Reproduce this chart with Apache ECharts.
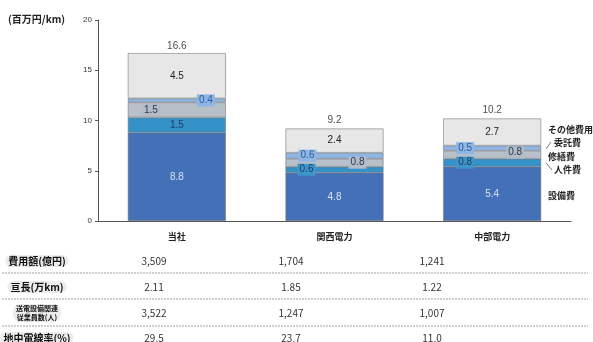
<!DOCTYPE html>
<html>
<head>
<meta charset="utf-8">
<script src="https://cdn.jsdelivr.net/npm/echarts@6/dist/echarts.min.js"></script>
<style>
  html, body { margin: 0; padding: 0; background: #fff; }
  #main { width: 593px; height: 342px; }
</style>
</head>
<body>
<div id="main"></div>
<script>
var categories = ['当社', '関西電力', '中部電力']
var equipment = [8.8, 4.8, 5.4]
var personnel = [1.5, 0.6, 0.8]
var repair = [1.5, 0.8, 0.8]
var outsourcing = [0.4, 0.6, 0.5]
var other = [4.5, 2.4, 2.7]
var totals = [16.6, 9.2, 10.2]

var rowNames = ['費用額(億円)', '亘長(万km)', '送電設備関連\n従業員数(人)', '地中電線率(%)']
var costs = ['3,509', '1,704', '1,241']
var lengths = ['2.11', '1.85', '1.22']
var staff = ['3,522', '1,247', '1,007']
var undergroundRate = ['29.5', '23.7', '11.0']
var tableRows = [costs, lengths, staff, undergroundRate]

var font = '"Noto Sans CJK JP", "Noto Sans", sans-serif'
var chart = echarts.init(document.getElementById('main'))

// labels for thin segments sit off to the side in little boxes
function sideLabels(values, offsets, bg, color) {
	return values.map(function (v, i) {
		var o = offsets[i]
		return {
			value: v,
			label: o ? {
				show: true,
				position: 'inside',
				offset: o,
				backgroundColor: bg,
				padding: [1, 2],
				color: color,
			} : { show: true },
		}
	})
}

var barBorder = { borderColor: '#7a7a7a', borderWidth: 0.6 }

var option = {
	animation: false,
	grid: { left: 98, right: 22, top: 20, bottom: 121 },
	xAxis: {
		type: 'category',
		data: categories,
		axisLine: { lineStyle: { color: '#555' } },
		axisTick: { length: 3, lineStyle: { color: '#555' } },
		axisLabel: { fontSize: 9, fontWeight: 'bold', color: '#222', fontFamily: font, margin: 11 },
	},
	yAxis: {
		type: 'value',
		min: 0,
		max: 20,
		interval: 5,
		splitLine: { show: false },
		axisLine: { show: true, lineStyle: { color: '#555' } },
		axisTick: { show: true, length: 3, lineStyle: { color: '#555' } },
		axisLabel: { fontSize: 8, color: '#333', margin: 6 },
	},
	series: [
		{
			name: '設備費',
			type: 'bar',
			stack: 'cost',
			barWidth: 98,
			itemStyle: Object.assign({ color: '#4470b8' }, barBorder),
			label: { show: true, color: '#d8e2f4', fontSize: 10 },
			data: equipment,
		},
		{
			name: '人件費',
			type: 'bar',
			stack: 'cost',
			itemStyle: Object.assign({ color: '#3592c8' }, barBorder),
			label: { show: true, color: '#1d3d66', fontSize: 10 },
			data: sideLabels(personnel, [null, [-28, 0], [-27, 0]], '#3e95c9', '#1d3d66'),
		},
		{
			name: '修繕費',
			type: 'bar',
			stack: 'cost',
			itemStyle: Object.assign({ color: '#b7bfc9' }, barBorder),
			label: { show: true, color: '#222', fontSize: 10 },
			data: sideLabels(repair, [[-26, 0], [23, 0], [23, -2]], '#b2bbc6', '#2a3a55'),
		},
		{
			name: '委託費',
			type: 'bar',
			stack: 'cost',
			itemStyle: Object.assign({ color: '#8fb5e3' }, barBorder),
			label: { show: true, color: '#2c5a9c', fontSize: 10 },
			data: sideLabels(outsourcing, [[29, 0], [-27, 0], [-27, 0]], '#8fb5e3', '#2c5a9c'),
		},
		{
			name: 'その他費用',
			type: 'bar',
			stack: 'cost',
			itemStyle: Object.assign({ color: '#e7e7e7' }, barBorder),
			label: { show: true, color: '#222', fontSize: 10 },
			data: other,
		},
		{
			name: '合計',
			type: 'scatter',
			symbolSize: 0,
			label: { show: true, position: 'top', distance: 3, color: '#222', fontSize: 10 },
			data: totals,
		},
	],
	graphic: [],
}

// axis unit
option.graphic.push({
	type: 'text', left: 8, top: 14,
	style: { text: '(百万円/km)', fontSize: 10, fontWeight: 'bold', fill: '#222', fontFamily: font },
})

// legend labels at the right of the last bar
var legendText = [
	['その他費用', 548, 130],
	['委託費', 554, 143],
	['修繕費', 548, 157],
	['人件費', 554, 170],
	['設備費', 548, 196],
]
legendText.forEach(function (t) {
	option.graphic.push({
		type: 'text', x: t[1], y: t[2],
		style: { text: t[0], fontSize: 9, fontWeight: 'bold', fill: '#222', fontFamily: font, textVerticalAlign: 'middle' },
	})
})
option.graphic.push(
	{ type: 'line', shape: { x1: 546, y1: 149, x2: 551, y2: 142 }, style: { stroke: '#555', lineWidth: 0.8 } },
	{ type: 'line', shape: { x1: 546, y1: 163, x2: 552, y2: 170 }, style: { stroke: '#555', lineWidth: 0.8 } }
)

// table below the chart: headers, values and dashed separators
var rowY = [261, 287, 313, 338]
var colX = [154, 291, 432]
rowNames.forEach(function (name, i) {
	var twoLine = name.indexOf('\n') >= 0
	option.graphic.push({
		type: 'text', x: 37, y: rowY[i],
		style: {
			text: name,
			fontSize: twoLine ? 7 : 10,
			lineHeight: twoLine ? 9 : 12,
			fontWeight: 'bold',
			fill: '#111',
			fontFamily: font,
			textAlign: 'center',
			textVerticalAlign: 'middle',
			backgroundColor: '#ececec',
			borderRadius: 8,
			padding: [0, 3],
		},
	})
	tableRows[i].forEach(function (v, j) {
		option.graphic.push({
			type: 'text', x: colX[j], y: rowY[i],
			style: { text: v, fontSize: 10, fill: '#333', fontFamily: font, textAlign: 'center', textVerticalAlign: 'middle' },
		})
	})
})
;[273, 299, 326].forEach(function (y) {
	option.graphic.push({
		type: 'line', shape: { x1: 2, y1: y, x2: 588, y2: y },
		style: { stroke: '#888', lineWidth: 0.8, lineDash: [2, 1] },
	})
})

chart.setOption(option)
</script>
</body>
</html>
